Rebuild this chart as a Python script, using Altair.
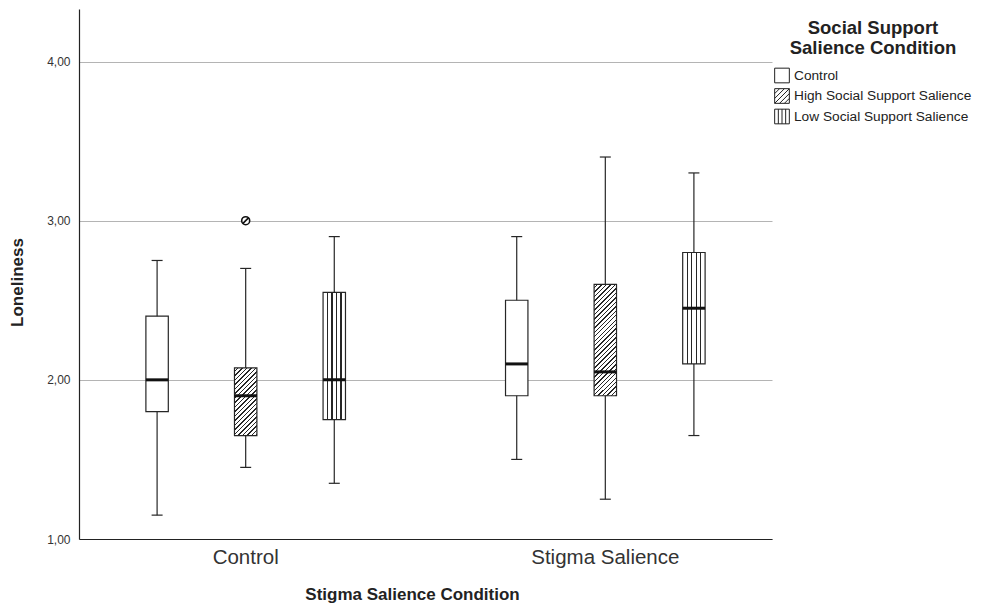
import altair as alt
import pandas as pd

# ---- data ----
groups = ["Control", "Stigma Salience"]
conds = ["Control", "High Social Support Salience", "Low Social Support Salience"]
box_group = ["Control", "Control", "Control", "Stigma Salience", "Stigma Salience", "Stigma Salience"]
box_cond = conds * 2
whisk_lo = [1.15, 1.45, 1.35, 1.50, 1.25, 1.65]
q1 = [1.80, 1.65, 1.75, 1.90, 1.90, 2.10]
median = [2.00, 1.90, 2.00, 2.10, 2.05, 2.45]
q3 = [2.40, 2.075, 2.55, 2.50, 2.60, 2.80]
whisk_hi = [2.75, 2.70, 2.90, 2.90, 3.40, 3.30]
out_group = ["Control"]
out_cond = ["High Social Support Salience"]
out_value = [3.00]
y_ticks = [1, 2, 3, 4]

df = pd.DataFrame({"group": box_group, "cond": box_cond, "lo": whisk_lo, "q1": q1,
                   "med": median, "q3": q3, "hi": whisk_hi})
df["idx"] = range(len(df))
df_out = pd.DataFrame({"group": out_group, "cond": out_cond, "val": out_value})

FONT = "Liberation Sans"
W, H = 693, 530
YMIN, YMAX = 1.0, 4.33
PX = H / (YMAX - YMIN)
BOXW = 22.4
LINE = "#262626"

x_scale = alt.Scale(domain=groups, paddingInner=0.261, paddingOuter=0.094)
xo_scale = alt.Scale(domain=conds, paddingInner=0.747, paddingOuter=0.3735)
y_scale = alt.Scale(domain=[YMIN, YMAX], nice=False, zero=False)

X = alt.X("group:N", scale=x_scale, sort=groups,
          axis=alt.Axis(title="Stigma Salience Condition", labelAngle=0, ticks=False,
                        labelFontSize=20.5, labelColor="#333333", labelPadding=8,
                        titleFontSize=17, titleFontWeight="bold", titleColor="#222222",
                        titlePadding=19, titleX=333, titleAlign="center",
                        domainColor="#222222", domainWidth=1.2,
                        grid=False, labelFont=FONT, titleFont=FONT))
XO = alt.XOffset("cond:N", scale=xo_scale, sort=conds)


def diag_gradient(h, w=BOXW, period=4.5, frac=0.32):
    n = max(1, round((w + h) / period))
    stops = []
    for k in range(n):
        a = k / n
        b = (k + 1 - frac) / n
        c = (k + 1) / n
        stops += [{"offset": a, "color": "white"}, {"offset": b, "color": "white"},
                  {"offset": b, "color": LINE}, {"offset": c, "color": LINE}]
    s = w * (w + h) / (w * w + h * h)
    return {"gradient": "linear", "x1": 0, "y1": 0, "x2": s, "y2": s * h / w, "stops": stops}


def vert_gradient(n=5, frac=0.05):
    stops = [{"offset": 0, "color": "white"}]
    for k in range(1, n):
        c = k / n
        stops += [{"offset": c - frac / 2, "color": "white"}, {"offset": c - frac / 2, "color": LINE},
                  {"offset": c + frac / 2, "color": LINE}, {"offset": c + frac / 2, "color": "white"}]
    stops.append({"offset": 1, "color": "white"})
    return {"gradient": "linear", "x1": 0, "y1": 0, "x2": 1, "y2": 0, "stops": stops}


base = alt.Chart(df)

whiskers = base.mark_rule(color=LINE, strokeWidth=1.2).encode(
    x=X, xOffset=XO,
    y=alt.Y("lo:Q", scale=y_scale,
            axis=alt.Axis(title="Loneliness", values=y_ticks, ticks=False, tickSize=0,
                          labelExpr="replace(format(datum.value, '.2f'), '.', ',')",
                          labelFontSize=12, labelColor="#333333", labelPadding=9,
                          titleFontSize=17, titleFontWeight="bold", titleColor="#222222",
                          titlePadding=20, titleY=273, titleAlign="center",
                          grid=True, gridColor="#b4b4b4", gridWidth=1,
                          domainColor="#222222", domainWidth=1.2,
                          labelFont=FONT, titleFont=FONT)),
    y2="hi:Q")

caps_lo = base.mark_tick(color=LINE, size=11, thickness=1.2, orient="horizontal", opacity=1).encode(
    x=X, xOffset=XO, y=alt.Y("lo:Q", scale=y_scale))
caps_hi = base.mark_tick(color=LINE, size=11, thickness=1.2, orient="horizontal", opacity=1).encode(
    x=X, xOffset=XO, y=alt.Y("hi:Q", scale=y_scale))

box_layers = []
for i in range(len(df)):
    cond = box_cond[i]
    if cond == conds[0]:
        fill = "white"
    elif cond == conds[1]:
        fill = diag_gradient((q3[i] - q1[i]) * PX)
    else:
        fill = vert_gradient()
    box_layers.append(
        base.transform_filter(alt.datum.idx == i).mark_bar(
            fill=fill, stroke=LINE, strokeWidth=1.2, opacity=1).encode(
            x=X, xOffset=XO, y=alt.Y("q1:Q", scale=y_scale), y2="q3:Q"))

medians = base.mark_tick(color="#111111", size=BOXW, thickness=3, orient="horizontal", opacity=1).encode(
    x=X, xOffset=XO, y=alt.Y("med:Q", scale=y_scale))

legend_shapes = [
    "M-1,-1H1V1H-1Z",
    "M-1,-1H1V1H-1Z M-1,-0.33L-0.33,-1 M-1,0.33L0.33,-1 M-1,1L1,-1 M-0.33,1L1,-0.33 M0.33,1L1,0.33",
    "M-1,-1H1V1H-1Z M-0.5,-1V1 M0,-1V1 M0.5,-1V1",
]
legend_layer = base.mark_point(opacity=0, filled=False).encode(
    x=X, xOffset=XO, y=alt.Y("med:Q", scale=y_scale),
    shape=alt.Shape("cond:N", sort=conds,
                    scale=alt.Scale(domain=conds, range=legend_shapes),
                    legend=alt.Legend(title=["Social Support", "Salience Condition"],
                                      orient="none", legendX=695, legendY=10,
                                      titleFontSize=18.5, titleFontWeight="bold",
                                      titleColor="#222222", titleFont=FONT,
                                      titleAnchor="middle", titleAlign="center",
                                      titleLineHeight=20, titlePadding=10,
                                      titleLimit=400, labelLimit=400,
                                      labelFontSize=13.7, labelColor="#222222", labelFont=FONT,
                                      labelOffset=4, rowPadding=0.5,
                                      symbolSize=215, symbolStrokeColor="#222222",
                                      symbolFillColor="white", symbolStrokeWidth=1,
                                      symbolOpacity=1)))

outlier_path = "M-1,0A1,1,0,1,1,1,0A1,1,0,1,1,-1,0Z M-0.75,0.75L0.75,-0.75"
outlier = alt.Chart(df_out).mark_point(shape=outlier_path, size=64, filled=False,
                                       stroke="#111111", strokeWidth=1.6, fill="white",
                                       fillOpacity=1, opacity=1).encode(
    x=X, xOffset=XO, y=alt.Y("val:Q", scale=y_scale))

chart = alt.layer(whiskers, caps_lo, caps_hi, *box_layers, medians, outlier, legend_layer).properties(
    width=W, height=H, padding={"left": 0, "top": 1, "right": 0, "bottom": 0}
).configure(font=FONT).configure_view(strokeWidth=0, stroke="transparent")

chart.save("out.html", embed_options={"renderer": "svg", "actions": False})
